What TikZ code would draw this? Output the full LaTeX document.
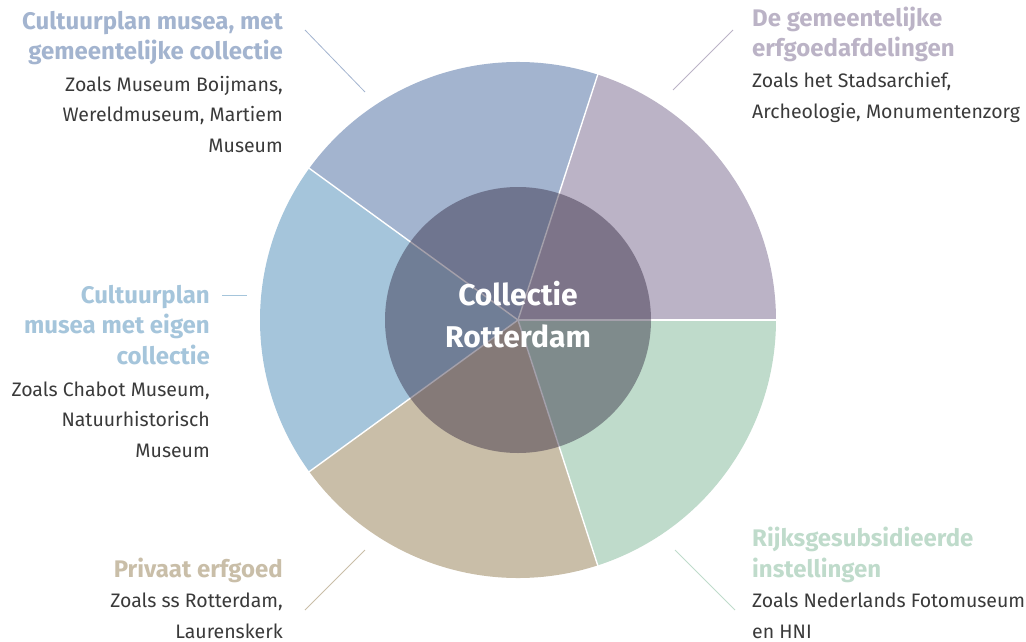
\documentclass[tikz,border=0pt]{standalone}
\usepackage{fontspec}
\setmainfont{Fira Sans}
\usepackage{tikz}
\usetikzlibrary{positioning, calc}
\definecolor{rdmauve}{HTML}{BBB3C6}
\definecolor{rdslate}{HTML}{A3B4CF}
\definecolor{rdsky}{HTML}{A5C5DB}
\definecolor{rdsand}{HTML}{C9BEA8}
\definecolor{rdmint}{HTML}{BFDBCB}
\definecolor{rdcore}{HTML}{281E37}
\definecolor{rdtext}{HTML}{3A3A3A}

\begin{document}
\begin{tikzpicture}[
    x=1pt, y=1pt,
    title/.style={font=\fontsize{24}{30.5}\selectfont\bfseries, text=#1, inner sep=0pt},
    body/.style={font=\fontsize{19.5}{30.5}\selectfont, text=rdtext, inner sep=0pt},
    leader/.style={draw=#1, line width=0.8pt}
]
\useasboundingbox (0,0) rectangle (1026,-642);
\coordinate (c) at (518,-320);

% pie sectors
\foreach \a/\col in {0/rdmauve, 72/rdslate, 144/rdsky, 216/rdsand, 288/rdmint}
  \fill[\col] (c) -- ++(\a:258) arc[start angle=\a, delta angle=72, radius=258] -- cycle;
\foreach \a in {0,72,...,288}
  \draw[white, line width=1.4pt] (c) -- ++(\a:259);

% inner core
\fill[rdcore, opacity=0.42] (c) circle[radius=133];
\node[font=\fontsize{30}{42}\selectfont\bfseries, text=white, align=center, anchor=base] (core) at (518,-347) {Collectie\\Rotterdam};

% labels (base anchor sits on the last line)
\node[title=rdslate, align=right, anchor=base east] (t1) at (283,-60) {Cultuurplan musea, met\\gemeentelijke collectie};
\node[body, align=right, anchor=base east] (b1) at (283,-152) {Zoals Museum Boijmans,\\Wereldmuseum, Martiem\\Museum};

\node[title=rdmauve, align=left, anchor=base west] (t2) at (752,-57) {De gemeentelijke\\erfgoedafdelingen};
\node[body, align=left, anchor=base west] (b2) at (752,-118) {Zoals het Stadsarchief,\\Archeologie, Monumentenzorg};

\node[title=rdsky, align=right, anchor=base east] (t3) at (210,-364) {Cultuurplan\\musea met eigen\\collectie};
\node[body, align=right, anchor=base east] (b3) at (210,-457) {Zoals Chabot Museum,\\Natuurhistorisch\\Museum};

\node[title=rdsand, align=right, anchor=base east] (t4) at (283,-577) {Privaat erfgoed};
\node[body, align=right, anchor=base east] (b4) at (283,-638) {Zoals ss Rotterdam,\\Laurenskerk};

\node[title=rdmint, align=left, anchor=base west] (t5) at (752,-577) {Rijksgesubsidieerde\\instellingen};
\node[body, align=left, anchor=base west] (b5) at (752,-638) {Zoals Nederlands Fotomuseum\\en HNI};

% leader lines
\coordinate (l1a) at (305,-30);  \coordinate (l1b) at (365,-92);
\coordinate (l2a) at (733,-30);  \coordinate (l2b) at (673,-90);
\coordinate (l3a) at (222,-295); \coordinate (l3b) at (247,-295);
\coordinate (l4a) at (305,-610); \coordinate (l4b) at (365,-550);
\coordinate (l5a) at (675,-550); \coordinate (l5b) at (735,-610);
\draw[leader=rdslate] (l1a) -- (l1b);
\draw[leader=rdmauve] (l2a) -- (l2b);
\draw[leader=rdsky] (l3a) -- (l3b);
\draw[leader=rdsand] (l4a) -- (l4b);
\draw[leader=rdmint] (l5a) -- (l5b);
\end{tikzpicture}
\end{document}
